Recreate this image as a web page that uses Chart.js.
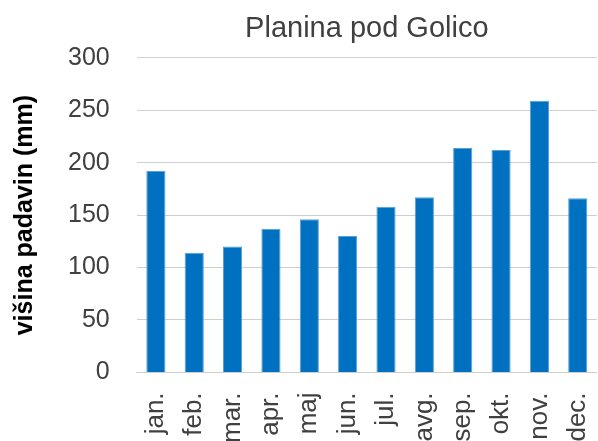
<!DOCTYPE html>
<html>
<head>
<meta charset="utf-8">
<script src="https://cdn.jsdelivr.net/npm/chart.js@4/dist/chart.umd.min.js"></script>
<style>
  html, body { margin: 0; padding: 0; background: #fff; overflow: hidden; }
  #wrap { width: 622px; height: 455px; position: relative; }
</style>
</head>
<body>
<div id="wrap"><canvas id="chart"></canvas></div>
<script>
const months = ['jan.', 'feb.', 'mar.', 'apr.', 'maj', 'jun.', 'jul.', 'avg.', 'sep.', 'okt.', 'nov.', 'dec.']
const padavine = [192, 114, 120, 137, 146, 130, 158, 167, 214, 212, 259, 166]
const yTicks = [0, 50, 100, 150, 200, 250, 300]

const font = "'Liberation Sans', Arial, sans-serif"
const ctx = document.getElementById('chart')

new Chart(ctx, {
  type: 'bar',
  data: {
    labels: months,
    datasets: [{
      label: 'višina padavin',
      data: padavine,
      backgroundColor: '#0070C0',
      borderColor: '#5a9fd6',
      borderWidth: 1,
      categoryPercentage: 1,
      barPercentage: 0.5
    }]
  },
  options: {
    responsive: true,
    maintainAspectRatio: false,
    animation: false,
    layout: { padding: 0 },
    plugins: {
      legend: { display: false },
      tooltip: { enabled: false },
      title: {
        display: true,
        fullSize: false,  // centre over the plot, not the whole canvas
        text: 'Planina pod Golico',
        color: '#404040',
        font: { family: font, size: 29, weight: 'normal' },
        padding: { top: 12, bottom: 11 }
      }
    },
    scales: {
      x: {
        grid: { display: false },
        border: { color: '#cfcfcf', width: 1 },
        ticks: {
          color: '#404040',
          font: { family: font, size: 26 },
          minRotation: 90,
          maxRotation: 90,
          padding: 12,
          autoSkip: false
        }
      },
      y: {
        min: 0,
        max: 300,
        afterBuildTicks: axis => { axis.ticks = yTicks.map(v => ({ value: v })) },
        grid: { color: '#cfcfcf', lineWidth: 1, drawTicks: false },
        border: { display: false },
        ticks: {
          color: '#404040',
          font: { family: font, size: 25 },
          padding: 27
        },
        title: {
          display: true,
          text: 'višina padavin (mm)',
          color: '#000',
          font: { family: font, size: 25, weight: 'bold' },
          padding: { top: 10, bottom: 1 }
        }
      }
    }
  }
})
</script>
</body>
</html>
